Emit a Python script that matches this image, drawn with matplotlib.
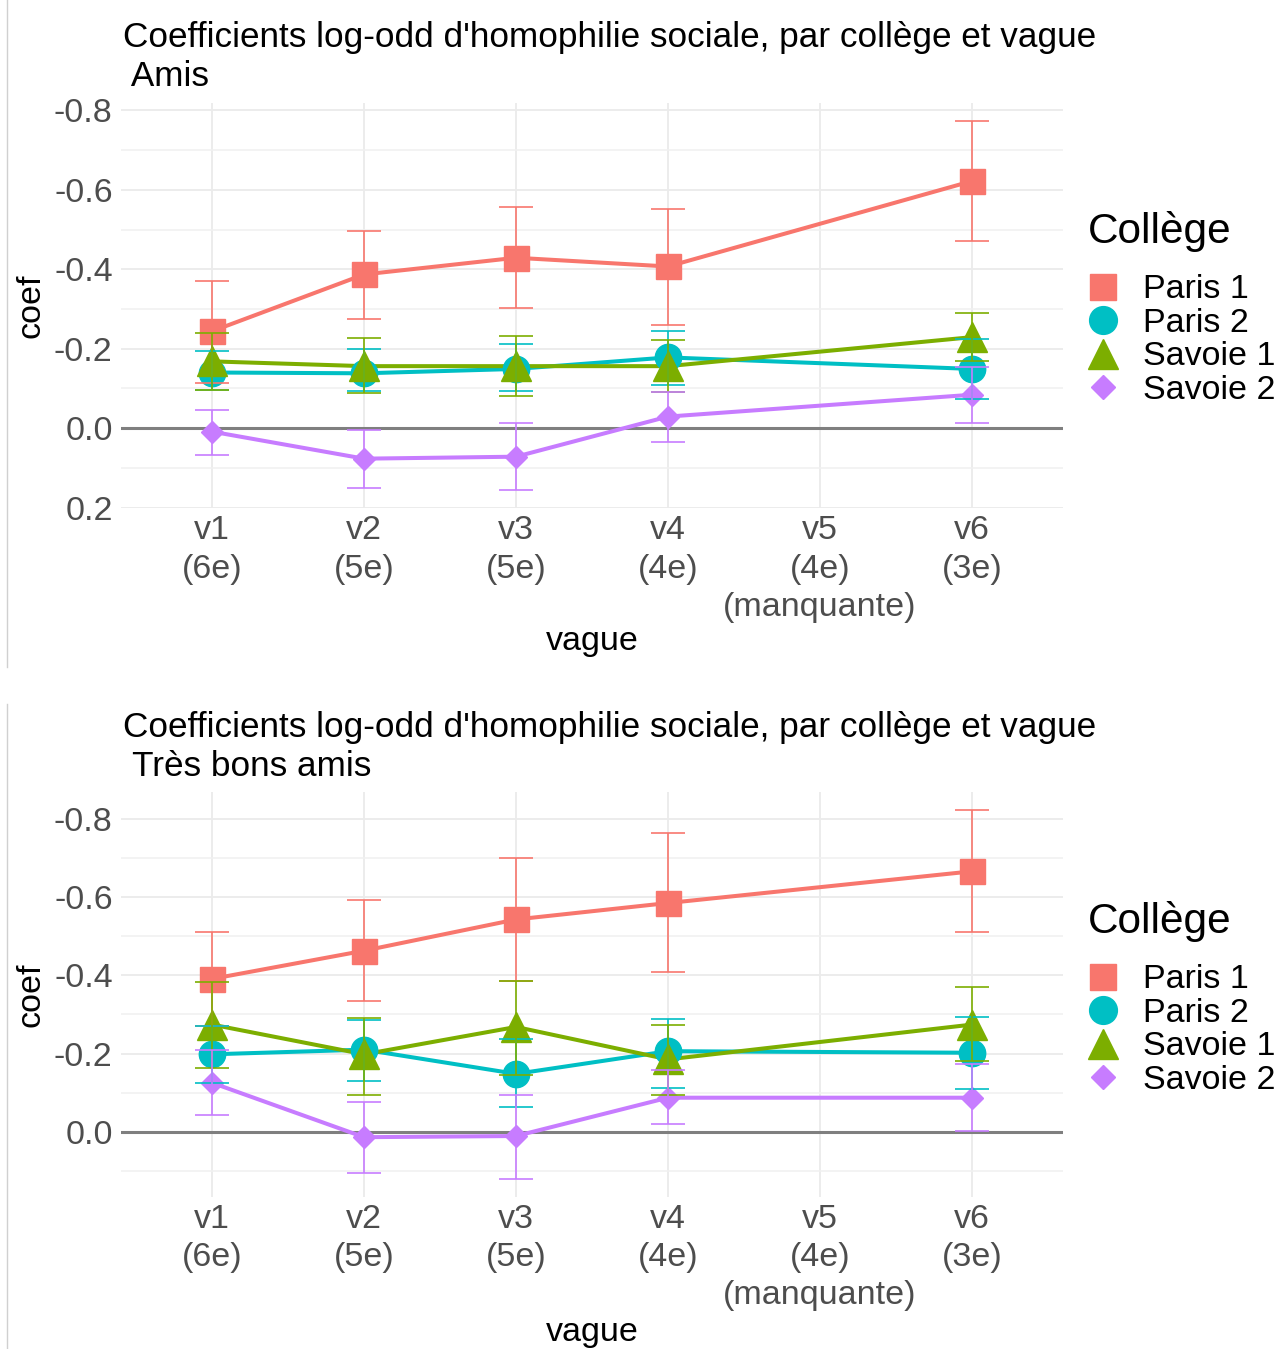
import numpy as np
import matplotlib
matplotlib.use('Agg')
import matplotlib.pyplot as plt
from matplotlib.lines import Line2D

plt.rcParams['font.family'] = ['Liberation Sans', 'DejaVu Sans']

# axe des vagues (v5 manquante)
vague_labels = ['v1\n(6e)', 'v2\n(5e)', 'v3\n(5e)', 'v4\n(4e)', 'v5\n(4e)\n(manquante)', 'v6\n(3e)']
vague_x = [1, 2, 3, 4, 6]

colleges = ['Paris 1', 'Paris 2', 'Savoie 1', 'Savoie 2']

# Amis : coefficient, borne basse, borne haute
amis_coef = {
    'Paris 1': [-0.244, -0.387, -0.429, -0.407, -0.622],
    'Paris 2': [-0.140, -0.138, -0.149, -0.178, -0.149],
    'Savoie 1': [-0.168, -0.156, -0.156, -0.156, -0.229],
    'Savoie 2': [0.009, 0.077, 0.072, -0.029, -0.084],
}
amis_lo = {
    'Paris 1': [-0.371, -0.497, -0.556, -0.552, -0.774],
    'Paris 2': [-0.193, -0.198, -0.213, -0.245, -0.224],
    'Savoie 1': [-0.239, -0.226, -0.233, -0.221, -0.291],
    'Savoie 2': [-0.046, 0.005, -0.012, -0.092, -0.154],
}
amis_hi = {
    'Paris 1': [-0.113, -0.276, -0.303, -0.259, -0.471],
    'Paris 2': [-0.096, -0.094, -0.094, -0.109, -0.073],
    'Savoie 1': [-0.096, -0.088, -0.082, -0.092, -0.170],
    'Savoie 2': [0.067, 0.151, 0.156, 0.035, -0.014],
}

# Très bons amis
tba_coef = {
    'Paris 1': [-0.391, -0.463, -0.543, -0.585, -0.666],
    'Paris 2': [-0.198, -0.210, -0.148, -0.206, -0.202],
    'Savoie 1': [-0.274, -0.198, -0.268, -0.185, -0.274],
    'Savoie 2': [-0.125, 0.014, 0.011, -0.087, -0.087],
}
tba_lo = {
    'Paris 1': [-0.512, -0.594, -0.701, -0.763, -0.822],
    'Paris 2': [-0.270, -0.285, -0.238, -0.289, -0.294],
    'Savoie 1': [-0.382, -0.290, -0.385, -0.273, -0.369],
    'Savoie 2': [-0.209, -0.076, -0.093, -0.159, -0.172],
}
tba_hi = {
    'Paris 1': [-0.270, -0.334, -0.385, -0.409, -0.510],
    'Paris 2': [-0.124, -0.129, -0.063, -0.111, -0.108],
    'Savoie 1': [-0.164, -0.095, -0.146, -0.094, -0.181],
    'Savoie 2': [-0.042, 0.105, 0.120, -0.019, -0.002],
}

couleurs = {'Paris 1': '#F8766D', 'Paris 2': '#00BFC4', 'Savoie 1': '#7CAE00', 'Savoie 2': '#C77CFF'}
marqueurs = {'Paris 1': ('s', 18), 'Paris 2': ('o', 19), 'Savoie 1': ('^', 22), 'Savoie 2': ('D', 11.5)}
marqueurs_leg = {'Paris 1': ('s', 19), 'Paris 2': ('o', 20), 'Savoie 1': ('^', 22), 'Savoie 2': ('D', 12)}

TITRE = "Coefficients log-odd d'homophilie sociale, par collège et vague"
W, H = 1280, 1349
FS = 24.5


def panneau(fig, rect, coef, lo, hi, ylim, yticks, sous_titre, titre_y, leg_y):
    ax = fig.add_axes(rect)
    for c in colleges:
        y = np.array(coef[c])
        err = [y - np.array(lo[c]), np.array(hi[c]) - y]
        ax.plot(vague_x, y, '-', color=couleurs[c], lw=2.9, zorder=3)
        m, ms = marqueurs[c]
        ax.plot(vague_x, y, m, color=couleurs[c], ms=ms, zorder=4)
        ax.errorbar(vague_x, y, yerr=err, fmt='none', ecolor=couleurs[c],
                    elinewidth=1.4, capsize=12, capthick=1.4, alpha=0.85, zorder=5)
    ax.axhline(0, color='#7F7F7F', lw=2.2, zorder=2)
    ax.set_xticks(range(1, 7))
    ax.set_xticklabels(vague_labels, fontsize=FS, color='#4D4D4D', linespacing=1.3)
    ax.set_yticks(yticks)
    ax.set_yticklabels(['%.1f' % v if v != 0 else '0.0' for v in yticks], fontsize=FS, color='#4D4D4D')
    ax.set_yticks(np.arange(-0.9, 0.25, 0.1), minor=True)
    ax.set_xlim(0.4, 6.6)
    ax.set_ylim(*ylim)
    ax.grid(True, which='major', color='#EBEBEB', lw=1.3)
    ax.grid(True, which='minor', axis='y', color='#F0F0F0', lw=1.1)
    ax.tick_params(axis='x', length=0, pad=5, which='both')
    ax.tick_params(axis='y', length=0, pad=6, which='both')
    for s in ax.spines.values():
        s.set_visible(False)
    ax.set_axisbelow(True)
    ax.set_xlabel('vague', fontsize=FS, va='center')
    ax.set_ylabel('coef', fontsize=FS, va='center')
    h_ax = rect[3] * H
    ax.xaxis.set_label_coords(0.5, -leg_y[1] / h_ax)
    ax.yaxis.set_label_coords(-90 / (rect[2] * W), 0.5)

    fig.text(123 / W, 1 - titre_y / H, TITRE, fontsize=25.3, va='baseline')
    fig.text(123 / W, 1 - (titre_y + 39) / H, ' ' + sous_titre, fontsize=25.3, va='baseline')

    # légende dessinée à la main
    y0 = leg_y[0]
    fig.text(1088 / W, 1 - (y0 + 15) / H, 'Collège', fontsize=30.5, va='baseline')
    for i, c in enumerate(colleges):
        yc = y0 + 59 + i * 33.4
        m, ms = marqueurs_leg[c]
        fig.add_artist(Line2D([1103 / W], [1 - yc / H], ls='none', marker=m, ms=ms, color=couleurs[c]))
        fig.text(1143 / W, 1 - (yc + 11.5) / H, c, fontsize=FS, va='baseline')
    return ax


fig = plt.figure(figsize=(W / 100, H / 100), dpi=100)

# leg_y = (centre du titre de légende, distance bas du panneau -> "vague")
panneau(fig, [121 / W, 1 - 508.5 / H, 942 / W, 406 / H], amis_coef, amis_lo, amis_hi,
        (0.2025, -0.82), [-0.8, -0.6, -0.4, -0.2, 0.0, 0.2], 'Amis', 47, (228, 133.5))
panneau(fig, [121 / W, 1 - 1197 / H, 942 / W, 405 / H], tba_coef, tba_lo, tba_hi,
        (0.167, -0.869), [-0.8, -0.6, -0.4, -0.2, 0.0], 'Très bons amis', 737, (918, 135))

# bords gris des deux captures
fig.add_artist(Line2D([7 / W, 7 / W], [1 - 667 / H, 1], color='#D0D0D0', lw=1))
fig.add_artist(Line2D([7 / W, 7 / W], [0, 1 - 704 / H], color='#D0D0D0', lw=1))

fig.savefig('out.png', dpi=100)
